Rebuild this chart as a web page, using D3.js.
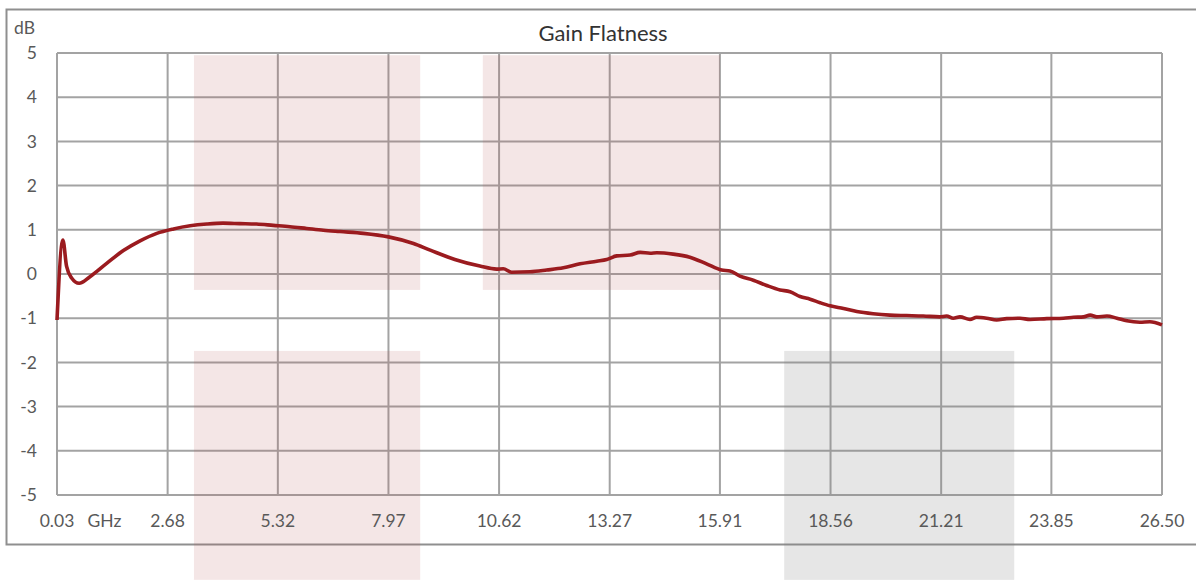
<!DOCTYPE html>
<html>
<head>
<meta charset="utf-8">
<script src="https://cdn.jsdelivr.net/npm/d3@7"></script>
<style>
  html, body { margin: 0; padding: 0; background: #fff; }
  svg { display: block; font-family: Lato, "Open Sans", sans-serif; }
</style>
</head>
<body>
<svg id="chart" width="1196" height="580"></svg>
<script>
// frequency (GHz) and gain flatness (dB)
const freq = [0.03, 0.17, 0.26, 0.38, 0.56, 0.82, 1.22, 1.62, 2.02, 2.42, 2.82, 3.22, 3.62, 4.01,
  4.41, 4.81, 5.21, 5.61, 6.01, 6.41, 6.81, 7.37, 7.97, 8.57, 8.97, 9.56, 10.16, 10.56, 10.72,
  10.92, 11.36, 11.76, 12.16, 12.56, 12.96, 13.20, 13.44, 13.76, 14.00, 14.24, 14.40, 14.79,
  15.19, 15.59, 15.95, 16.15, 16.39, 16.71, 17.03, 17.35, 17.59, 17.83, 18.07, 18.31, 18.55,
  18.87, 19.19, 19.58, 19.98, 20.38, 20.78, 21.18, 21.34, 21.50, 21.66, 21.90, 22.06, 22.30,
  22.54, 22.78, 23.10, 23.34, 23.74, 24.14, 24.38, 24.62, 24.78, 24.94, 25.18, 25.42, 25.66,
  25.97, 26.21, 26.50];
const gain = [-1.04, 0.77, 0.17, -0.09, -0.21, -0.06, 0.24, 0.53, 0.75, 0.92, 1.02, 1.09, 1.13, 1.15,
  1.14, 1.13, 1.10, 1.07, 1.03, 0.99, 0.96, 0.92, 0.84, 0.69, 0.54, 0.33, 0.18, 0.11, 0.12,
  0.04, 0.05, 0.09, 0.14, 0.23, 0.29, 0.33, 0.41, 0.43, 0.49, 0.47, 0.48, 0.45,
  0.38, 0.23, 0.09, 0.07, -0.05, -0.14, -0.26, -0.36, -0.40, -0.51, -0.57, -0.65, -0.72,
  -0.78, -0.85, -0.90, -0.93, -0.94, -0.95, -0.97, -0.95, -1.00, -0.97, -1.03, -0.98, -1.00,
  -1.04, -1.01, -1.00, -1.03, -1.01, -1.00, -0.98, -0.97, -0.93, -0.97, -0.95, -1.00, -1.06,
  -1.09, -1.08, -1.15];

const xTicks = [0.03, 2.68, 5.32, 7.97, 10.62, 13.27, 15.91, 18.56, 21.21, 23.85, 26.50];
const yTicks = [-5, -4, -3, -2, -1, 0, 1, 2, 3, 4, 5];

// highlighted bands: [f0, f1, dB top, dB bottom]
const pinkBands = [[3.31, 8.73, 4.95, -0.36], [10.23, 15.91, 4.95, -0.36], [3.31, 8.73, -1.74, -6.92]];
const grayBands = [[17.45, 22.96, -1.74, -6.92]];

const svg = d3.select("#chart");
const plotL = 57, plotR = 1162, plotT = 53, plotB = 495;

const x = d3.scaleLinear().domain([0.03, 26.5]).range([plotL, plotR]);
const y = d3.scaleLinear().domain([-5, 5]).range([plotB, plotT]);

// outer frame
svg.append("rect")
    .attr("x", 6.5).attr("y", 9.5)
    .attr("width", 1200).attr("height", 535)
    .attr("fill", "none")
    .attr("stroke", "#8f8f8f")
    .attr("stroke-width", 2);

// grid
const grid = svg.append("g").attr("stroke", "#a3a3a3").attr("stroke-width", 2);
grid.selectAll("line.h").data(yTicks).join("line")
    .attr("class", "h")
    .attr("x1", plotL).attr("x2", plotR)
    .attr("y1", d => y(d)).attr("y2", d => y(d));
grid.selectAll("line.v").data(xTicks).join("line")
    .attr("class", "v")
    .attr("x1", d => x(d)).attr("x2", d => x(d))
    .attr("y1", plotT).attr("y2", plotB);

// bands
const bands = svg.append("g");
bands.selectAll("rect.p").data(pinkBands).join("rect")
    .attr("class", "p")
    .attr("x", d => x(d[0])).attr("width", d => x(d[1]) - x(d[0]))
    .attr("y", d => y(d[2])).attr("height", d => y(d[3]) - y(d[2]))
    .attr("fill", "rgb(180,90,90)").attr("fill-opacity", 0.15);
bands.selectAll("rect.g").data(grayBands).join("rect")
    .attr("class", "g")
    .attr("x", d => x(d[0])).attr("width", d => x(d[1]) - x(d[0]))
    .attr("y", d => y(d[2])).attr("height", d => y(d[3]) - y(d[2]))
    .attr("fill", "rgb(128,128,128)").attr("fill-opacity", 0.2);

// axis labels
svg.append("g")
    .attr("fill", "#595959").attr("font-size", 17.5).attr("text-anchor", "end")
  .selectAll("text").data(yTicks).join("text")
    .attr("x", 37).attr("y", d => y(d)).attr("dy", "0.35em")
    .text(d => d);
svg.append("g")
    .attr("fill", "#595959").attr("font-size", 17.5).attr("text-anchor", "middle")
  .selectAll("text").data(xTicks).join("text")
    .attr("x", d => x(d)).attr("y", 527)
    .text(d => d.toFixed(2));
svg.append("text")
    .attr("x", 104.5).attr("y", 527).attr("text-anchor", "middle")
    .attr("fill", "#595959").attr("font-size", 17.5)
    .text("GHz");
svg.append("text")
    .attr("x", 14).attr("y", 34)
    .attr("fill", "#595959").attr("font-size", 17.5)
    .text("dB");

// title
svg.append("text")
    .attr("x", 603).attr("y", 41).attr("text-anchor", "middle")
    .attr("fill", "#333").attr("font-size", 22)
    .text("Gain Flatness");

// trace
const line = d3.line()
    .x(i => x(freq[i]))
    .y(i => y(gain[i]))
    .curve(d3.curveMonotoneX);
svg.append("path")
    .attr("d", line(d3.range(freq.length)))
    .attr("fill", "none")
    .attr("stroke", "#9b1b1f")
    .attr("stroke-width", 3.6)
    .attr("stroke-linejoin", "round");
</script>
</body>
</html>
